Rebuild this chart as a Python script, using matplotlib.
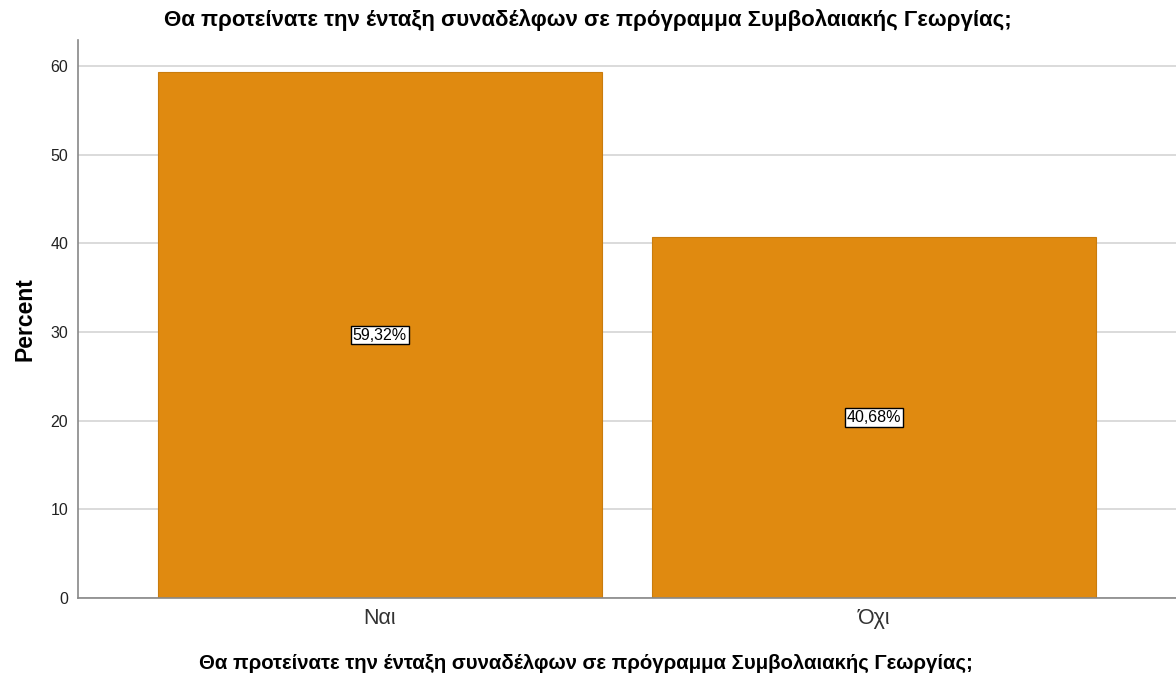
import matplotlib
matplotlib.use("Agg")
import matplotlib.pyplot as plt

categories = ["Ναι", "Όχι"]
percents = [59.32, 40.68]
labels = ["59,32%", "40,68%"]
yticks = [0, 10, 20, 30, 40, 50, 60]
title = "Θα προτείνατε την ένταξη συναδέλφων σε πρόγραμμα Συμβολαιακής Γεωργίας;"

plt.rcParams['font.family'] = ['Liberation Sans', 'DejaVu Sans']

fig = plt.figure(figsize=(11.76, 6.81), dpi=100)
ax = fig.add_axes([78/1176, 1 - 598/681, 1 - 78/1176, (598 - 40)/681])

x = list(range(len(categories)))
ax.set_axisbelow(True)
ax.yaxis.grid(True, color="#d4d4d4", linewidth=1.2)
ax.bar(x, percents, width=0.899, color="#E08A10", edgecolor="#c97c0e", linewidth=0.8, zorder=2)

for xi, p, lab in zip(x, percents, labels):
    ax.text(xi, p / 2, lab, ha="center", va="center", fontsize=11.5, zorder=3,
            bbox=dict(boxstyle="square,pad=0.12", fc="white", ec="black", lw=1.0))

ax.set_xlim(-0.611, 1.611)
ax.set_ylim(0, 62.93)
ax.set_yticks(yticks)
ax.set_yticklabels([str(t) for t in yticks], fontsize=11.5, color="#222222")
ax.set_xticks(x)
ax.set_xticklabels(categories, fontsize=15.5, color="#333333")
ax.tick_params(axis="both", length=0)
ax.tick_params(axis="y", pad=7)
ax.tick_params(axis="x", pad=7)

for s in ["top", "right"]:
    ax.spines[s].set_visible(False)
for s in ["left", "bottom"]:
    ax.spines[s].set_color("#888888")
    ax.spines[s].set_linewidth(1.2)

ax.set_ylabel("Percent", fontsize=16.5, fontweight="bold", labelpad=10)
fig.text(586/1176, 1 - 663/681, title, ha="center", va="center",
         fontsize=14.7, fontweight="bold")
fig.text(588/1176, 1 - 20/681, title, ha="center", va="center",
         fontsize=16, fontweight="bold")

fig.savefig("out.png", dpi=100)
